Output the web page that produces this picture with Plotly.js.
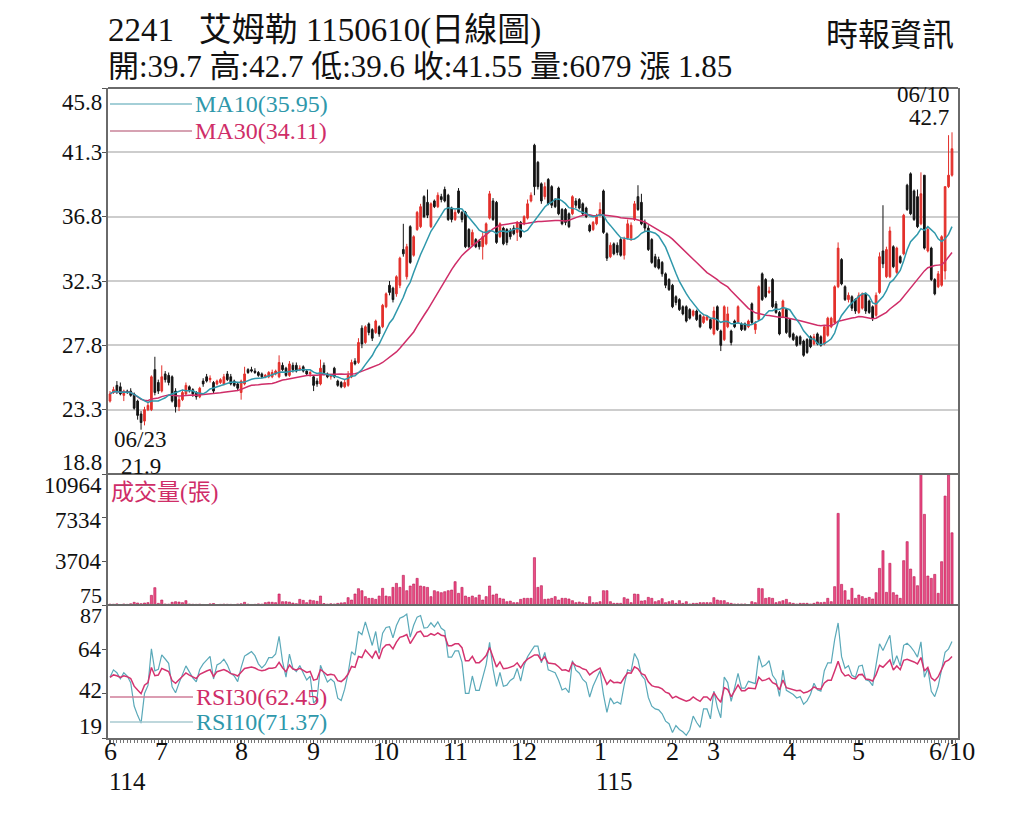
<!DOCTYPE html>
<html>
<head>
<meta charset="utf-8">
<script src="https://cdn.plot.ly/plotly-3.0.1.min.js"></script>
<style>html,body{margin:0;padding:0;background:#fff}#chart{width:1024px;height:819px}</style>
</head>
<body>
<div id="chart"></div>
<script>
// ---------------- DATA ----------------
const monthTickIdx = [0, 15, 38, 59, 80, 100, 120, 142, 163, 175, 197, 217, 244];
const monthLabels  = ['6', '7', '8', '9', '10', '11', '12', '1', '2', '3', '4', '5', '6/10'];

const priceTicks = [18.8, 23.3, 27.8, 32.3, 36.8, 41.3, 45.8];
const volTicks   = [75, 3704, 7334, 10964];
const rsiTicks   = [19, 42, 64, 87];

const openP = [
 23.9,24.5,25.0,24.9,24.3,24.6,24.6,24.4,23.9,23.0,
 22.5,23.3,23.3,26.1,25.2,24.6,25.8,25.7,25.6,24.6,
 23.5,24.0,24.4,24.9,24.7,24.5,24.2,25.3,25.6,25.4,
 25.2,25.1,25.2,25.1,25.8,25.6,25.3,25.1,24.5,25.1,
 26.1,26.1,26.0,25.9,25.8,25.6,25.6,25.6,25.8,25.6,
 26.4,26.2,25.7,26.4,26.4,26.1,26.3,26.0,25.8,25.6,
 25.3,25.1,26.4,25.8,25.6,26.2,25.3,25.2,24.9,25.0,
 25.6,26.7,26.6,29.0,28.0,29.3,28.9,28.7,29.1,29.1,
 30.5,32.0,31.8,31.4,32.0,34.5,32.6,36.1,34.1,35.9,
 36.1,38.2,37.8,36.1,37.9,37.5,38.2,38.7,38.3,37.4,
 36.6,38.6,37.1,37.1,35.9,34.8,35.2,35.1,34.7,34.9,
 36.7,37.9,37.8,35.4,36.0,35.9,35.8,36.0,35.7,36.4,
 36.3,36.7,37.9,41.8,40.6,39.1,38.2,39.4,38.9,38.0,
 38.8,37.3,37.3,37.0,37.0,37.9,38.0,37.7,37.4,36.2,
 35.9,36.3,36.9,38.6,35.6,34.0,34.9,34.8,35.2,34.1,
 35.3,35.3,36.6,38.2,37.8,36.4,36.0,35.2,34.0,33.8,
 33.6,32.8,32.4,32.0,31.2,31.0,30.5,30.5,30.3,29.9,
 30.2,29.9,29.4,29.6,29.6,28.6,30.5,28.8,28.2,29.1,
 28.8,29.5,29.4,29.3,29.3,29.1,30.7,28.9,29.6,32.8,
 32.4,31.5,32.4,30.7,30.1,29.8,30.3,29.6,28.6,28.4,
 28.4,28.1,28.2,28.4,27.9,28.6,28.4,27.9,28.5,29.1,
 29.4,31.9,33.8,31.9,31.0,31.2,31.0,30.1,30.4,31.4,
 30.9,30.5,29.9,31.5,34.4,32.6,32.6,34.7,32.9,34.0,
 34.2,39.0,39.8,38.6,38.2,36.3,39.7,34.4,34.6,32.4,
 31.9,32.0,33.0,38.9,39.7
];
const highP = [
 24.6,24.9,25.3,25.2,24.7,24.7,24.8,24.5,24.0,23.2,
 23.5,23.8,25.7,27.0,25.4,26.4,26.0,25.9,25.7,24.8,
 24.2,24.7,25.2,25.0,24.8,24.6,24.9,25.5,25.8,25.7,
 25.3,25.4,25.5,25.8,26.0,25.8,25.4,25.2,25.4,26.3,
 26.2,26.3,26.2,26.0,25.9,25.8,26.0,26.1,26.1,27.1,
 26.6,26.3,26.7,26.6,26.6,26.4,26.4,26.1,26.0,25.7,
 25.5,26.8,26.6,25.9,25.8,26.3,25.4,25.3,25.4,26.0,
 26.8,26.9,28.3,29.2,29.2,29.4,29.0,29.6,29.2,30.7,
 31.5,32.3,31.9,32.7,34.0,36.3,34.9,36.2,35.5,37.2,
 37.7,38.3,38.7,37.8,38.0,38.5,38.4,38.9,38.4,37.5,
 37.3,38.8,37.2,37.2,36.0,35.9,35.3,35.2,35.7,36.4,
 38.6,38.1,37.9,36.4,36.1,36.0,36.0,36.2,36.5,36.5,
 36.9,38.0,38.5,41.9,40.7,39.2,39.2,39.5,39.0,38.1,
 38.9,37.4,37.4,37.1,38.3,38.1,38.1,37.8,37.5,36.3,
 36.5,37.0,37.8,38.7,35.7,35.0,35.0,35.0,35.3,35.4,
 36.6,36.4,37.9,39.0,38.4,36.6,36.2,35.3,34.2,34.0,
 33.7,32.9,32.5,32.1,31.3,31.1,30.6,30.6,30.4,30.3,
 30.3,30.0,29.9,29.9,29.7,30.5,30.6,28.9,30.6,30.5,
 28.9,29.6,30.6,29.4,29.4,29.6,30.8,29.5,32.0,32.9,
 32.5,31.9,32.5,30.9,30.2,31.0,30.4,29.7,28.7,28.5,
 28.5,28.2,28.3,28.5,28.6,28.7,28.5,29.2,29.8,29.8,
 32.0,35.0,33.9,32.0,31.5,31.3,31.1,31.5,31.5,31.5,
 31.0,30.6,31.5,34.3,37.6,34.7,36.1,34.8,34.7,34.1,
 37.0,39.1,39.9,38.7,38.7,39.9,39.7,36.0,34.7,32.5,
 33.0,35.5,38.9,42.5,42.7
];
const lowP = [
 23.8,24.4,24.4,24.3,23.9,24.4,24.2,23.3,22.6,21.9,
 22.2,23.2,23.2,24.3,24.4,24.5,25.2,25.0,23.8,23.1,
 23.2,23.9,24.3,24.5,24.2,24.0,24.1,24.9,25.2,25.2,
 24.4,25.0,25.1,25.0,25.3,25.0,24.9,24.6,24.0,25.0,
 25.8,25.9,25.8,25.6,25.5,25.5,25.5,25.5,25.7,25.5,
 26.0,25.6,25.6,25.9,25.9,26.0,25.9,25.7,25.6,24.6,
 24.9,25.0,25.7,25.5,25.4,25.5,24.9,24.8,24.8,24.9,
 25.5,26.4,26.5,27.6,27.9,28.5,28.1,28.6,28.4,29.0,
 30.4,31.3,30.8,31.2,31.8,34.0,32.4,33.5,34.0,35.8,
 36.0,36.7,36.7,36.0,37.4,37.4,37.8,37.8,36.5,36.4,
 36.5,37.0,36.4,34.6,34.6,34.7,34.6,34.5,33.8,34.8,
 36.6,36.5,34.9,35.3,34.8,34.8,35.2,35.5,35.1,35.3,
 36.2,36.6,37.8,38.3,38.7,37.7,38.0,37.6,37.4,37.4,
 36.9,36.2,36.2,36.0,36.9,37.4,37.3,36.9,36.7,35.7,
 35.8,36.2,36.8,35.6,33.7,33.9,34.1,34.1,34.0,33.8,
 35.2,35.1,36.5,37.2,36.2,35.8,34.4,33.5,33.2,33.1,
 32.6,31.8,31.6,30.4,30.6,30.2,29.9,29.4,29.6,29.8,
 29.5,29.0,29.3,29.5,28.9,28.5,28.8,27.4,28.1,29.0,
 27.8,29.0,29.3,28.8,28.8,29.0,29.3,28.6,29.5,30.9,
 31.1,31.4,30.4,30.0,28.5,29.7,28.6,28.3,28.1,27.7,
 27.8,27.0,27.2,27.6,27.8,27.8,27.7,27.8,28.4,29.0,
 29.3,31.8,32.0,30.9,30.8,30.2,30.0,30.0,30.3,30.0,
 30.0,29.5,29.8,31.4,33.2,32.5,32.5,33.2,32.8,33.5,
 34.1,37.2,36.9,36.5,36.0,36.2,34.5,34.3,32.3,31.3,
 31.8,31.9,32.4,38.8,39.6
];
const closeP = [
 24.4,24.7,24.6,24.4,24.6,24.5,24.3,23.4,22.9,22.4,
 23.3,23.6,25.6,24.5,24.6,25.6,25.4,25.2,23.9,23.5,
 24.0,24.5,25.0,24.7,24.4,24.2,24.8,25.1,25.3,25.5,
 24.6,25.3,25.4,25.6,25.4,25.1,25.0,24.8,25.3,25.8,
 25.9,26.0,25.9,25.7,25.6,25.7,25.9,25.9,26.0,26.6,
 26.1,25.7,26.5,26.1,26.0,26.2,26.0,25.8,25.9,25.0,
 25.1,26.2,25.9,25.6,25.7,25.6,25.0,24.9,25.2,25.7,
 26.6,26.5,28.0,27.9,29.1,28.7,28.3,29.5,28.6,30.6,
 31.4,31.5,31.0,32.6,33.9,34.2,34.7,33.6,35.4,37.1,
 37.5,36.8,36.9,37.7,37.5,38.3,38.0,37.9,36.6,36.6,
 37.1,37.1,36.6,34.7,34.7,35.7,34.7,34.7,35.4,36.3,
 38.4,36.6,35.0,36.3,34.9,35.0,35.4,35.6,36.4,35.4,
 36.8,37.7,38.3,38.9,38.9,37.9,38.9,37.7,37.6,37.5,
 37.0,36.3,36.4,36.1,38.2,37.6,37.4,37.0,36.8,35.8,
 36.4,36.8,37.3,35.7,33.9,34.8,34.2,34.3,34.1,35.2,
 36.3,36.2,37.7,37.3,36.3,36.0,34.5,33.6,33.3,33.2,
 32.8,32.0,31.7,30.5,30.8,30.3,30.0,29.5,29.7,30.2,
 29.6,29.1,29.8,29.8,29.0,30.2,28.9,27.8,30.5,30.0,
 28.0,29.1,30.5,28.9,28.9,29.5,29.4,29.3,31.9,31.0,
 31.2,31.6,30.5,30.1,28.6,30.9,28.7,28.4,28.2,27.8,
 27.9,27.1,27.3,27.7,28.4,27.9,27.8,29.1,29.7,29.7,
 31.9,34.6,32.1,31.0,31.3,30.4,30.2,31.3,31.4,30.2,
 30.1,29.7,31.3,34.0,33.5,34.5,35.8,33.3,34.6,33.6,
 36.9,37.3,37.0,36.6,36.1,38.4,34.6,35.9,32.4,31.4,
 32.8,35.4,38.9,39.7,41.55
];
const volume = [
 150,140,170,120,160,130,180,296,240,185,
 240,270,878,1515,210,490,160,150,300,350,
 320,270,435,160,140,130,150,120,110,170,
 200,110,130,150,140,130,120,160,180,300,
 150,120,130,170,150,270,320,300,270,990,
 350,350,320,240,185,545,460,270,490,435,
 380,820,200,150,180,160,210,250,270,685,
 490,990,1430,1265,770,630,630,545,820,1460,
 820,770,1540,1875,1540,2540,1265,1655,1820,2290,
 1655,1600,1540,770,1265,1180,1100,1180,1265,1320,
 2015,1045,1540,820,710,820,685,905,490,770,
 1655,905,990,630,575,350,400,270,270,545,
 630,630,630,4010,1540,1680,545,575,630,770,
 490,630,630,575,435,270,325,270,215,770,
 270,270,350,1265,1265,350,215,215,215,685,
 575,270,990,960,405,435,710,630,350,435,
 600,270,350,435,215,435,215,350,160,215,
 215,270,270,270,270,685,490,435,435,270,
 215,160,160,160,160,100,350,270,1460,1430,
 630,685,630,270,350,435,545,270,215,160,
 215,215,215,160,215,325,270,300,630,350,
 1600,7690,1790,1265,490,1460,630,905,770,630,
 710,575,1100,3120,4590,1130,3540,1100,905,630,
 3760,5340,3065,2430,1680,10964,7610,2485,2290,2620,
 1045,3675,9130,10900,6079
];

// ---------------- derived indicators (computed from the closes) ----------------
function movingAvg(src, n) {
  return src.map((_, i) => {
    const s = Math.max(0, i - n + 1);
    let sum = 0;
    for (let k = s; k <= i; k++) sum += src[k];
    return sum / (i - s + 1);
  });
}
function rsiWilder(src, n) {
  let ag = 0.2, al = 0.2;
  const out = [50];
  for (let i = 1; i < src.length; i++) {
    const d = src[i] - src[i - 1];
    const g = d > 0 ? d : 0, l = d < 0 ? -d : 0;
    ag = (ag * (n - 1) + g) / n;
    al = (al * (n - 1) + l) / n;
    out.push(al === 0 ? 100 : 100 - 100 / (1 + ag / al));
  }
  return out;
}
const idx = closeP.map((_, i) => i);
const ma10 = movingAvg(closeP, 10);
const ma30 = movingAvg(closeP, 30);
const rsi10 = rsiWilder(closeP, 10);
const rsi30 = rsiWilder(closeP, 30);

// ---------------- styling / layout ----------------
const FONT = '"Liberation Serif", "Noto Sans CJK TC", serif';
const TEAL = '#2f98ab', CRIM = '#cf2d68';
const L = 108, R = 958, T = 88, B = 738;
const px = x => (x - L) / (R - L);
const py = y => (B - y) / (B - T);

const traces = [
  {type: 'candlestick', x: idx, open: openP, high: highP, low: lowP, close: closeP,
   xaxis: 'x', yaxis: 'y', whiskerwidth: 0, hoverinfo: 'skip', showlegend: false,
   increasing: {line: {color: '#e3302b', width: 1}, fillcolor: '#e3302b'},
   decreasing: {line: {color: '#141414', width: 1}, fillcolor: '#141414'}},
  {type: 'scatter', mode: 'lines', x: idx, y: ma30, xaxis: 'x', yaxis: 'y',
   line: {color: CRIM, width: 1.5}, hoverinfo: 'skip', showlegend: false},
  {type: 'scatter', mode: 'lines', x: idx, y: ma10, xaxis: 'x', yaxis: 'y',
   line: {color: TEAL, width: 1.5}, hoverinfo: 'skip', showlegend: false},
  {type: 'bar', x: idx, y: volume, xaxis: 'x', yaxis: 'y2', width: 0.62,
   marker: {color: '#ec4f86', line: {color: '#b8124f', width: 0.6}},
   hoverinfo: 'skip', showlegend: false},
  {type: 'scatter', mode: 'lines', x: idx, y: rsi10, xaxis: 'x', yaxis: 'y3',
   line: {color: '#5aa9b9', width: 1.2}, hoverinfo: 'skip', showlegend: false},
  {type: 'scatter', mode: 'lines', x: idx, y: rsi30, xaxis: 'x', yaxis: 'y3',
   line: {color: '#d4336f', width: 1.5}, hoverinfo: 'skip', showlegend: false}
];

function A(text, x, y, size, color, xanchor) {
  return {text: text, x: px(x), y: py(y), xref: 'paper', yref: 'paper',
          xanchor: xanchor || 'left', yanchor: 'middle', showarrow: false,
          font: {family: FONT, size: size, color: color || '#111'}};
}
function tickLabel(v, yref, shift, size) {
  return {text: String(v), x: 0, y: v, xref: 'paper', yref: yref, xanchor: 'right',
          yanchor: 'middle', xshift: -4, yshift: shift, showarrow: false,
          font: {family: FONT, size: size || 23, color: '#111'}};
}

const annotations = [
  A('2241\u00a0\u00a0\u00a0艾姆勒 1150610(日線圖)', 106, 31, 33),
  A('開:39.7 高:42.7 低:39.6 收:41.55 量:6079 漲 1.85', 106, 66, 31),
  A('時報資訊', 956, 35, 32, '#111', 'right'),
  A('06/10', 951, 94, 23, '#111', 'right'),
  A('42.7', 951, 118, 23, '#111', 'right'),
  A('06/23', 112, 439, 23),
  A('21.9', 119, 466, 23),
  A('MA10(35.95)', 193, 104, 24, TEAL),
  A('MA30(34.11)', 193, 131, 24, CRIM),
  A('成交量(張)', 109, 492, 23, CRIM),
  A('RSI30(62.45)', 194, 697, 24, CRIM),
  A('RSI10(71.37)', 194, 722, 24, TEAL),
  A('114', 107, 781, 25),
  A('115', 614, 781, 25, '#111', 'center')
];
// month labels under the bottom axis, placed at their trading-day index
monthTickIdx.forEach((v, k) => annotations.push({
  text: monthLabels[k], x: v, y: py(751), xref: 'x', yref: 'paper',
  xanchor: 'center', yanchor: 'middle', showarrow: false,
  font: {family: FONT, size: 26, color: '#111'}}));
priceTicks.forEach(v => annotations.push(tickLabel(v, 'y', v === 45.8 ? -14 : (v === 18.8 ? 12 : 0))));
volTicks.forEach(v => annotations.push(tickLabel(v, 'y2', v === 10964 ? -11 : (v === 75 ? 10 : (v === 7334 ? -3 : 0)), v === 75 ? 22 : 23)));
rsiTicks.forEach(v => annotations.push(tickLabel(v, 'y3', v === 87 ? -10 : (v === 19 ? 12 : (v === 42 ? 3 : 0)), v === 87 ? 22 : 23)));

function hline(y, x0, x1, color, w) {
  return {type: 'line', xref: 'paper', yref: 'paper', x0: px(x0), x1: px(x1), y0: py(y), y1: py(y),
          line: {color: color, width: w}};
}
const shapes = [
  hline(88, 108, 958, '#6a6a6a', 2),
  hline(474, 108, 958, '#6a6a6a', 2),
  hline(605, 108, 958, '#6a6a6a', 2),
  hline(104, 110, 192, '#86bfca', 1.5),
  hline(131, 110, 192, '#c98399', 1.5),
  hline(697, 110, 193, '#cf7c99', 1.5),
  hline(722, 110, 193, '#a8cad1', 1.5)
];

const yBase = {showline: true, linecolor: '#6a6a6a', linewidth: 2, mirror: true, zeroline: false,
               ticks: 'outside', ticklen: 4, tickcolor: '#555', showticklabels: false, fixedrange: true};

const layout = {
  width: 1024, height: 819,
  margin: {l: L, r: 1024 - R, t: T, b: 819 - B, pad: 0},
  paper_bgcolor: '#fff', plot_bgcolor: '#fff',
  showlegend: false, hovermode: false, bargap: 0.3,
  xaxis: {range: [-0.58, 245.74], anchor: 'y3', tickmode: 'array',
          tickvals: monthTickIdx, ticktext: monthLabels, showticklabels: false,
          ticks: 'outside', ticklen: 4, tickcolor: '#555', tickwidth: 1.5,
          minor: {dtick: 1, tick0: 0, ticks: 'outside', ticklen: 3, tickcolor: '#777', tickwidth: 1},
          showgrid: false, zeroline: false, showline: true, linecolor: '#6a6a6a', linewidth: 2,
          rangeslider: {visible: false}, fixedrange: true},
  yaxis: Object.assign({}, yBase, {domain: [py(474), 1], range: [18.8, 45.8], tickmode: 'array',
          tickvals: priceTicks, showgrid: true, gridcolor: '#cdcdcd', gridwidth: 2}),
  yaxis2: Object.assign({}, yBase, {domain: [py(605), py(474)], range: [75, 10964], tickmode: 'array',
          tickvals: volTicks, showgrid: false}),
  yaxis3: Object.assign({}, yBase, {domain: [0, py(605)], range: [19, 87], tickmode: 'array',
          tickvals: rsiTicks, showgrid: false}),
  annotations: annotations,
  shapes: shapes
};

Plotly.newPlot('chart', traces, layout, {displayModeBar: false, staticPlot: true});
</script>
</body>
</html>
